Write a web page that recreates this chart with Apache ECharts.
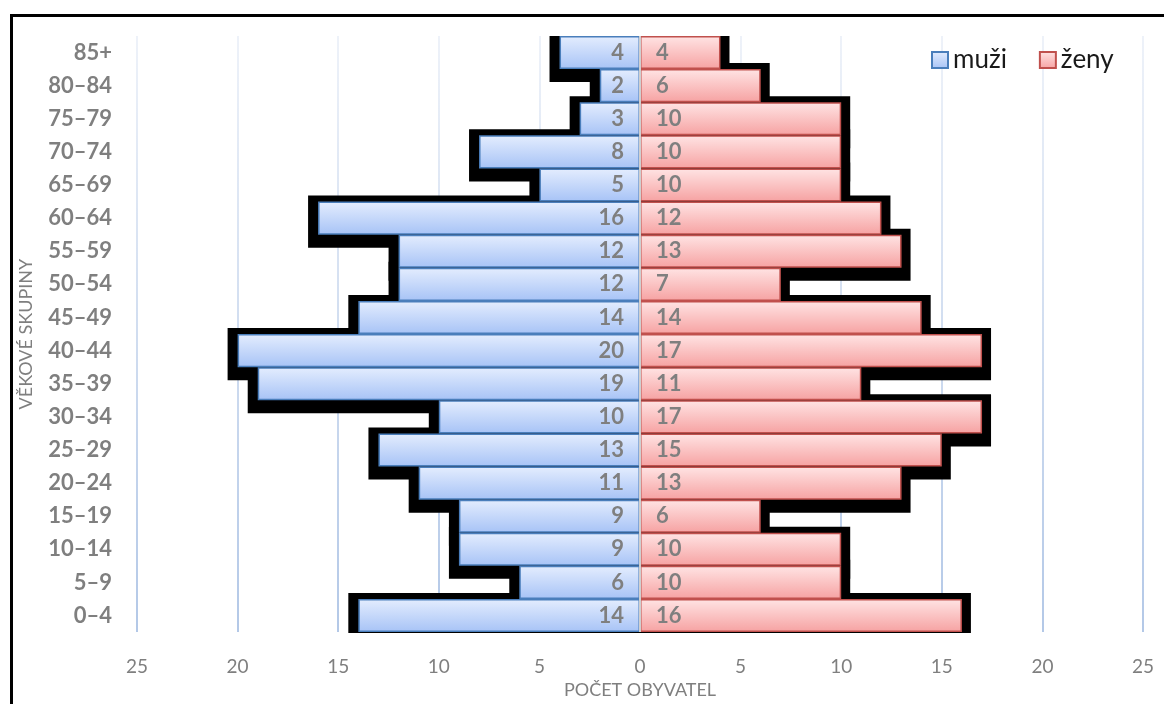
<!DOCTYPE html>
<html>
<head>
<meta charset="utf-8">
<script src="https://cdn.jsdelivr.net/npm/echarts@6/dist/echarts.min.js"></script>
<style>
html,body{margin:0;padding:0;background:#fff;}
#c{width:1164px;height:704px;}
</style>
</head>
<body>
<div id="c"></div>
<script>
var categories = ['0–4','5–9','10–14','15–19','20–24','25–29','30–34','35–39','40–44','45–49','50–54','55–59','60–64','65–69','70–74','75–79','80–84','85+'];
var men   = [14, 6, 9, 9, 11, 13, 10, 19, 20, 14, 12, 12, 16, 5, 8, 3, 2, 4];
var women = [16, 10, 10, 6, 13, 15, 17, 11, 17, 14, 7, 13, 12, 10, 10, 10, 6, 4];
var xTicks = {min: -25, max: 25, interval: 5};
var seriesNames = ['muži', 'ženy'];
var axisNames = {x: 'POČET OBYVATEL', y: 'VĚKOVÉ SKUPINY'};

var FONT = 'Lato, "Open Sans", sans-serif';
var chart = echarts.init(document.getElementById('c'));

var shadowData = [];
men.forEach(function(v, i){ shadowData.push([-v, i]); });
women.forEach(function(v, i){ shadowData.push([v, i]); });

var blueGrad = new echarts.graphic.LinearGradient(0, 0, 0, 1, [
  {offset: 0, color: '#e4edfe'}, {offset: 1, color: '#a7c3f6'}
]);
var redGrad = new echarts.graphic.LinearGradient(0, 0, 0, 1, [
  {offset: 0, color: '#ffe4e4'}, {offset: 1, color: '#f6a2a2'}
]);
var gridGrad = new echarts.graphic.LinearGradient(0, 0, 0, 1, [
  {offset: 0, color: '#eef2f9'}, {offset: 1, color: '#b3c8e7'}
]);

var option = {
  backgroundColor: '#fff',
  animation: false,
  graphic: [{
    type: 'rect', left: 9, top: 13, z: 100, silent: true,
    shape: {width: 1200, height: 800},
    style: {fill: 'none', stroke: '#000', lineWidth: 3}
  }],
  legend: {
    left: 926, top: 42,
    itemWidth: 16, itemHeight: 16, itemGap: 32,
    icon: 'rect',
    data: seriesNames,
    textStyle: {fontFamily: FONT, fontSize: 26, color: '#1a1a1a'}
  },
  grid: {left: 137, right: 21, top: 36, bottom: 71, containLabel: false},
  xAxis: {
    type: 'value', min: xTicks.min, max: xTicks.max, interval: xTicks.interval,
    name: axisNames.x, nameLocation: 'middle', nameGap: 48,
    nameTextStyle: {fontFamily: FONT, fontSize: 18, color: '#7f7f7f'},
    axisLine: {show: false}, axisTick: {show: false},
    axisLabel: {margin: 25, fontFamily: FONT, fontSize: 19, color: '#7f7f7f',
      formatter: function(v){ return Math.abs(v); }},
    splitLine: {show: true, lineStyle: {color: gridGrad, width: 2}}
  },
  yAxis: {
    type: 'category', data: categories,
    name: axisNames.y, nameLocation: 'middle', nameGap: 102, nameRotate: 90,
    nameTextStyle: {fontFamily: FONT, fontSize: 18, color: '#7f7f7f'},
    axisLine: {show: false, onZero: false}, axisTick: {show: false},
    axisLabel: {margin: 25, fontFamily: FONT, fontSize: 22, fontWeight: 'bold', color: '#7f7f7f'},
    splitLine: {show: false}
  },
  series: [
    {
      type: 'custom', name: 'shadow', z: 1, silent: true,
      encode: {x: 0, y: 1},
      data: shadowData,
      renderItem: function(params, api){
        var v = api.value(0), c = api.value(1);
        var p = api.coord([v, c]);
        var z = api.coord([0, c]);
        var h = api.size([0, 1])[1];
        var x0, x1;
        if (v < 0) { x0 = p[0] - 10; x1 = z[0]; } else { x0 = z[0]; x1 = p[0] + 9; }
        var rect = echarts.graphic.clipRectByRect(
          {x: x0, y: p[1] - h / 2 - 6, width: x1 - x0, height: h + 19},
          {x: params.coordSys.x, y: params.coordSys.y, width: params.coordSys.width, height: params.coordSys.height + 1}
        );
        return rect && {type: 'rect', shape: rect, style: {fill: '#000'}};
      }
    },
    {
      type: 'bar', name: seriesNames[0], z: 2,
      data: men.map(function(v){ return -v; }),
      barGap: '-100%', barCategoryGap: '0%',
      itemStyle: {color: blueGrad, borderColor: '#4a7ebb', borderWidth: 1.5},
      label: {show: true, position: 'insideRight', distance: 16,
        fontFamily: FONT, fontSize: 22, fontWeight: 'bold', color: '#7f7f7f',
        formatter: function(p){ return Math.abs(p.value); }}
    },
    {
      type: 'bar', name: seriesNames[1], z: 2,
      data: women,
      barGap: '-100%', barCategoryGap: '0%',
      itemStyle: {color: redGrad, borderColor: '#c0504d', borderWidth: 1.5},
      label: {show: true, position: 'insideLeft', distance: 16,
        fontFamily: FONT, fontSize: 22, fontWeight: 'bold', color: '#7f7f7f'},
      markLine: {
        silent: true, symbol: 'none', label: {show: false},
        lineStyle: {color: '#cfcfcf', width: 2, type: 'solid'},
        data: [{xAxis: 0}]
      }
    }
  ]
};
chart.setOption(option);
</script>
</body>
</html>
